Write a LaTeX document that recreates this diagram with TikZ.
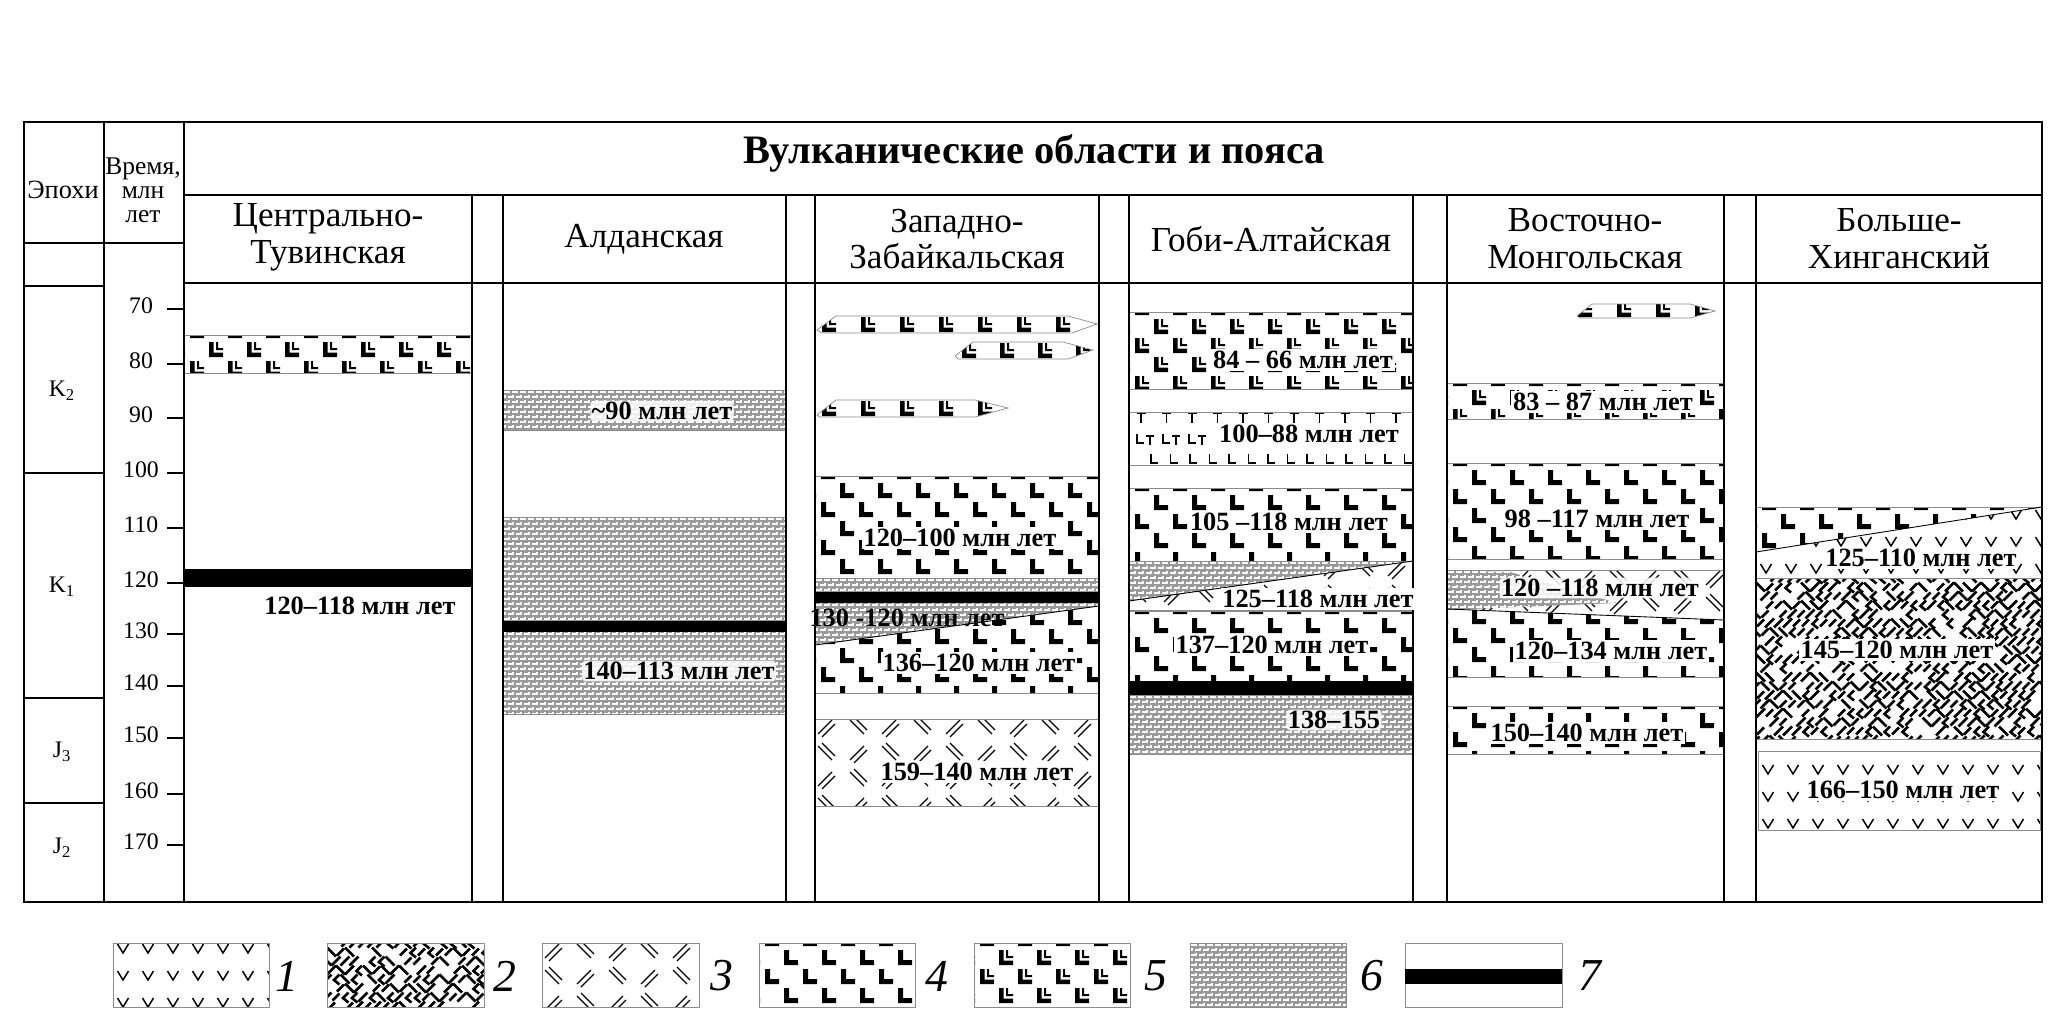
\documentclass[tikz,border=0pt]{standalone}
\usepackage{fontspec}
\setmainfont{Liberation Serif}
\usetikzlibrary{calc}
\tikzset{
  tbl/.style={line width=1.3pt},
  laybd/.style={draw=black!45, line width=0.4pt},
  lab/.style={font=\fontsize{15}{15}\selectfont\bfseries, inner sep=1pt},
  wlab/.style={lab, fill=white},
  hlab/.style={lab, fill=white, fill opacity=0.85, text opacity=1, rounded corners=2pt, inner sep=0.8pt},
  hdr/.style={font=\fontsize{20}{21}\selectfont, align=center, inner sep=0pt},
  tnum/.style={font=\fontsize{13.5}{14}\selectfont, inner sep=0pt},
  lnum/.style={font=\fontsize{26}{26}\selectfont\itshape, inner sep=0pt},
  rline/.style={line width=1.5pt},
  vline/.style={line width=0.85pt},
  sline/.style={line width=0.7pt},
  tline/.style={line width=1.1pt},
  gline/.style={white, line width=0.6pt},
  lmk/.pic={\fill (0,0) -- (0,-15) -- (5,-15) -- (5,-5) -- (14,-5) -- (14,0) -- cycle;},
  llmk/.pic={\fill (0,0) -- (0,-15) -- (4.5,-15) -- (4.5,-4.5) -- (14,-4.5) -- (14,0) -- cycle
      (7,-7) -- (7,-15) -- (9,-15) -- (9,-9) -- (14,-9) -- (14,-7) -- cycle;},
  vmk/.pic={\draw[vline] (-5.5,-5) -- (0,4) -- (5.5,-5);},
  sla/.pic={\draw[sline] (-7,7) -- (7,-7) (-3,10) -- (10,-3);},
  slb/.pic={\draw[sline] (-7,-7) -- (7,7) (-3,-10) -- (10,3);},
}
\newcommand\voff{8}
\newcommand\patL[4]{%
  \pgfmathtruncatemacro\nI{(#3-#1)/38+1}%
  \pgfmathtruncatemacro\nJ{(#4-#2)/19+1}%
  \path foreach \j in {0,...,\nJ}{foreach \i in {-1,...,\nI}{
    ({#1+6+\i*38+mod(\j,2)*19},{#2+3+\j*19}) pic {lmk}}};}
\newcommand\patLL[4]{%
  \pgfmathtruncatemacro\nI{(#3-#1)/38+1}%
  \pgfmathtruncatemacro\nJ{(#4-#2)/19+1}%
  \path foreach \j in {0,...,\nJ}{foreach \i in {-1,...,\nI}{
    ({#1+6+\i*38+mod(\j,2)*19},{#2+3+\j*19}) pic {llmk}}};}
\newcommand\patV[4]{%
  \pgfmathtruncatemacro\nI{(#3-#1)/25+1}%
  \pgfmathtruncatemacro\nJ{(#4-#2)/27+1}%
  \path foreach \j in {0,...,\nJ}{foreach \i in {0,...,\nI}{
    ({#1+10+\i*25},{#2+\voff+\j*27}) pic {vmk}}};}
\newcommand\patS[4]{%
  \pgfmathtruncatemacro\nI{(#3-#1)/64+1}%
  \pgfmathtruncatemacro\nJ{(#4-#2)/26+1}%
  \path foreach \j in {0,...,\nJ}{foreach \i in {-1,...,\nI}{
    ({#1+10+\i*64+mod(\j,2)*32},{#2+8+\j*26}) pic {sla}
    ({#1+42+\i*64-mod(\j,2)*32},{#2+8+\j*26}) pic {slb}}};}
\newcommand\patG[4]{%
  \fill[black!40] (#1,#2) rectangle (#3,#4);
  \pgfmathtruncatemacro\nI{(#3-#1)/8+1}%
  \pgfmathtruncatemacro\nJ{(#4-#2)/5+1}%
  \draw[gline] foreach \j in {0,...,\nJ}{foreach \i in {-1,...,\nI}{
    ({#1+1+\i*8+mod(\j,2)*4},{#2+2+\j*5}) -- ++(4,0)
    ({#1+6+\i*8+mod(\j,2)*4},{#2+\j*5}) -- ++(0,3)}};}
\newcommand\patR[4]{%
  \pgfmathsetseed{4242}%
  \pgfmathtruncatemacro\nI{(#3-#1)/9+1}%
  \pgfmathtruncatemacro\nJ{(#4-#2)/9+1}%
  \foreach \j in {0,...,\nJ}{\foreach \i in {0,...,\nI}{%
    \pgfmathrandominteger{\rr}{0}{4}%
    \pgfmathsetmacro\xx{#1+\i*9+mod(\j,2)*4.5}%
    \pgfmathsetmacro\yy{#2+\j*9}%
    \ifcase\rr
      \draw[rline] (\xx-4.5,\yy+4.5) -- (\xx+4.5,\yy-4.5);
    \or \draw[rline] (\xx-4.5,\yy-4.5) -- (\xx+4.5,\yy+4.5);
    \or \draw[rline] (\xx-3.5,\yy+3.5) -- (\xx+3.5,\yy-3.5);
    \or \draw[rline] (\xx+3.5,\yy-4.5) -- (\xx-2,\yy+1) -- (\xx+3.5,\yy+5.5);
    \else
    \fi}}}
\newcommand\patTL[4]{%
  \draw[tline] foreach \i in {0,...,11}{ ({#1+12+\i*25.5-4.5},{#2+1.5}) -- ++(9,0) ({#1+12+\i*25.5},{#2+1.5}) -- ++(0,9) };
  \draw[tline] foreach \i in {0,...,2}{ ({#1+8+\i*26},{#2+22}) -- ++(0,9) -- ++(7,0) ({#1+17+\i*26},{#2+24}) -- ++(8,0) ({#1+21+\i*26},{#2+24}) -- ++(0,9) };
  \draw[tline] foreach \i in {0,...,13}{ ({#1+22+\i*19.5},{#2+42}) -- ++(0,9) -- ++(7,0) };}
\newcommand\rpat[5]{\begin{scope}\clip (#2,#3) rectangle (#4,#5);\csname pat#1\endcsname{#2}{#3}{#4}{#5}\end{scope}\draw[laybd] (#2,#3) rectangle (#4,#5);}
\begin{document}
\begin{tikzpicture}[x=0.02cm,y=-0.02cm]
\useasboundingbox (0,0) rectangle (2067,1017);
\fill[white] (0,0) rectangle (2067,1017);

% ---------- Центрально-Тувинская
\rpat{LL}{184}{335}{472}{373}
\fill (184,569) rectangle (472,587);

% ---------- Алданская
\rpat{G}{503}{390}{786}{430}
\rpat{G}{503}{517}{786}{714}
\fill (503,621) rectangle (786,632);

% ---------- Западно-Забайкальская
\begin{scope}
 \clip (817,330) -- (836,316) -- (1068,316) -- (1097,324) -- (1072,333) -- (822,333) -- cycle;
 \path foreach \k in {0,...,7} {({822+\k*39},332) pic {llmk}};
\end{scope}
\draw[laybd] (817,330) -- (836,316) -- (1068,316) -- (1097,324) -- (1072,333) -- (822,333) -- cycle;
\begin{scope}
 \clip (955,356) -- (973,342) -- (1063,342) -- (1093,350) -- (1068,359) -- (958,359) -- cycle;
 \path foreach \k in {0,...,3} {({962+\k*38},358) pic {llmk}};
\end{scope}
\draw[laybd] (955,356) -- (973,342) -- (1063,342) -- (1093,350) -- (1068,359) -- (958,359) -- cycle;
\begin{scope}
 \clip (817,415) -- (836,400) -- (975,400) -- (1008,408) -- (975,417) -- (820,417) -- cycle;
 \path foreach \k in {0,...,4} {({822+\k*39},416) pic {llmk}};
\end{scope}
\draw[laybd] (817,415) -- (836,400) -- (975,400) -- (1008,408) -- (975,417) -- (820,417) -- cycle;
\rpat{L}{815}{476}{1099}{578}
\rpat{G}{815}{578}{1099}{592}
\rpat{L}{815}{603}{1099}{693}
\begin{scope}
 \clip (815,603) -- (1099,603) -- (1099,606) -- (815,645) -- cycle;
 \patG{815}{603}{1099}{645}
\end{scope}
\draw[line width=0.5pt] (815,645) -- (1099,606);
\fill (815,592) rectangle (1099,603);
\rpat{S}{815}{719}{1099}{806}

% ---------- Гоби-Алтайская
\rpat{LL}{1129}{312}{1413}{389}
\rpat{TL}{1129}{412}{1413}{465}
\rpat{L}{1129}{488}{1413}{561}
\begin{scope}
 \clip (1129,601) -- (1413,561) -- (1413,610) -- (1129,610) -- cycle;
 \patS{1129}{561}{1413}{610}
\end{scope}
\begin{scope}
 \clip (1129,561) -- (1413,561) -- (1129,601) -- cycle;
 \patG{1129}{561}{1413}{601}
\end{scope}
\draw[laybd] (1129,561) rectangle (1413,610);
\draw[line width=0.5pt] (1129,601) -- (1413,561);
\rpat{L}{1129}{611}{1413}{681}
\fill (1129,681) rectangle (1413,695);
\rpat{G}{1129}{695}{1413}{754}

% ---------- Восточно-Монгольская
\begin{scope}
 \clip (1577,316) -- (1592,304) -- (1690,304) -- (1715,311) -- (1690,318) -- (1580,318) -- cycle;
 \path foreach \k in {0,...,3} {({1578+\k*39},317) pic {llmk}};
\end{scope}
\draw[laybd] (1577,316) -- (1592,304) -- (1690,304) -- (1715,311) -- (1690,318) -- (1580,318) -- cycle;
\rpat{LL}{1447}{383}{1724}{419}
\rpat{L}{1447}{463}{1724}{559}
\begin{scope}
 \clip (1447,570) -- (1724,570) -- (1724,620) -- (1447,609) -- cycle;
 \patS{1447}{570}{1724}{620}
\end{scope}
\begin{scope}
 \clip (1447,570) -- (1510,572) -- (1617,603) -- (1447,610) -- cycle;
 \patG{1447}{570}{1617}{610}
\end{scope}
\begin{scope}
 \clip (1447,609) -- (1724,620) -- (1724,677) -- (1447,677) -- cycle;
 \patL{1447}{602}{1724}{677}
\end{scope}
\draw[laybd] (1447,570) rectangle (1724,677);
\draw[line width=0.5pt] (1447,609) -- (1724,620);
\rpat{L}{1447}{706}{1724}{754}

% ---------- Больше-Хинганский
\begin{scope}
 \clip (1756,507) -- (2042,507) -- (1756,552) -- cycle;
 \patL{1756}{507}{2042}{552}
\end{scope}
\begin{scope}
 \clip (1756,552) -- (2042,507) -- (2042,578) -- (1756,578) -- cycle;
 \renewcommand\voff{8}\patV{1756}{507}{2042}{578}
\end{scope}
\draw[laybd] (1756,507) rectangle (2042,578);
\draw[line width=0.5pt] (1756,552) -- (2042,507);
\rpat{R}{1756}{578}{2042}{739}
\renewcommand\voff{19}
\rpat{V}{1758}{751}{2040}{830}

% ---------- table
\draw[tbl] (24,122) rectangle (2042,902);
\draw[tbl] (104,122) -- (104,902);
\draw[tbl] (184,122) -- (184,902);
\draw[tbl] (24,243) -- (184,243);
\draw[tbl] (24,286) -- (104,286);
\draw[tbl] (24,473) -- (104,473);
\draw[tbl] (24,698) -- (104,698);
\draw[tbl] (24,803) -- (104,803);
\draw[tbl] (184,195) -- (2042,195);
\draw[tbl] (184,283) -- (2042,283);
\foreach \x in {472,503,786,815,1099,1129,1413,1447,1724,1756} \draw[tbl] (\x,195) -- (\x,902);
\foreach \t/\yy in {70/309,80/364,90/418,100/473,110/528,120/583,130/634,140/686,150/738,160/794,170/845}{
  \draw[tbl] (167,\yy) -- (184,\yy);
  \node[tnum] (t\t) at (141,\yy-3) {\t};}

% ---------- header texts
\node[font=\fontsize{23}{23}\selectfont\bfseries] (title) at (1034,153) {Вулканические области и пояса};
\node[font=\fontsize{15}{15}\selectfont, inner sep=0pt] (ep) at (63,190) {Эпохи};
\node[font=\fontsize{14.5}{13.6}\selectfont, align=center, inner sep=0pt] (vr) at (143,190) {Время,\\млн\\лет};
\node[tnum] (eK2) at (62,391) {K\textsubscript{2}};
\node[tnum] (eK1) at (62,587) {K\textsubscript{1}};
\node[tnum] (eJ3) at (62,752) {J\textsubscript{3}};
\node[tnum] (eJ2) at (62,848) {J\textsubscript{2}};
\node[hdr] (h1) at (328,237) {Центрально-\\Тувинская};
\node[hdr] (h2) at (644,239) {Алданская};
\node[hdr] (h3) at (957,239) {Западно-\\Забайкальская};
\node[hdr] (h4) at (1271,239) {Гоби-Алтайская};
\node[hdr] (h5) at (1585,239) {Восточно-\\Монгольская};
\node[hdr] (h6) at (1899,239) {Больше-\\Хинганский};

% ---------- layer labels
\node[lab] (a1) at (360,606) {120–118 млн лет};
\node[hlab] (b1) at (662,411) {\textasciitilde 90 млн лет};
\node[hlab] (b2) at (679,671) {140–113 млн лет};
\node[wlab] (c1) at (960,538) {120–100 млн лет};
\node[lab] (c2) at (907,618) {130 -120 млн лет};
\node[wlab] (c3) at (979,663) {136–120 млн лет};
\node[wlab] (c4) at (977,772) {159–140 млн лет};
\node[wlab] (d1) at (1303,360) {84 – 66 млн лет};
\node[wlab] (d2) at (1309,434) {100–88 млн лет};
\node[wlab] (d3) at (1289,522) {105 –118 млн лет};
\node[wlab] (d4) at (1318,599) {125–118 млн лет};
\node[wlab] (d5) at (1272,645) {137–120 млн лет};
\node[hlab] (d6) at (1334,720) {138–155};
\node[wlab] (e1) at (1603,402) {83 – 87 млн лет};
\node[wlab] (e2) at (1597,519) {98 –117 млн лет};
\node[hlab] (e3) at (1600,588) {120 –118 млн лет};
\node[wlab] (e4) at (1611,651) {120–134 млн лет};
\node[wlab] (e5) at (1587,733) {150–140 млн лет};
\node[wlab] (f1) at (1921,558) {125–110 млн лет};
\node[wlab] (f2) at (1897,650) {145–120 млн лет};
\node[wlab] (f3) at (1903,790) {166–150 млн лет};

% ---------- legend
\renewcommand\voff{6}
\rpat{V}{113}{943}{269}{1007}
\rpat{R}{327}{943}{484}{1007}
\rpat{S}{542}{943}{699}{1007}
\rpat{L}{759}{943}{915}{1007}
\rpat{LL}{974}{943}{1130}{1007}
\rpat{G}{1190}{943}{1346}{1007}
\draw[laybd] (1405,943) rectangle (1562,1007);
\fill (1405,969) rectangle (1562,984);
\node[lnum] (n1) at (287,976) {1};
\node[lnum] (n2) at (505,976) {2};
\node[lnum] (n3) at (722,976) {3};
\node[lnum] (n4) at (937,976) {4};
\node[lnum] (n5) at (1156,976) {5};
\node[lnum] (n6) at (1372,976) {6};
\node[lnum] (n7) at (1590,976) {7};
\end{tikzpicture}
\end{document}
